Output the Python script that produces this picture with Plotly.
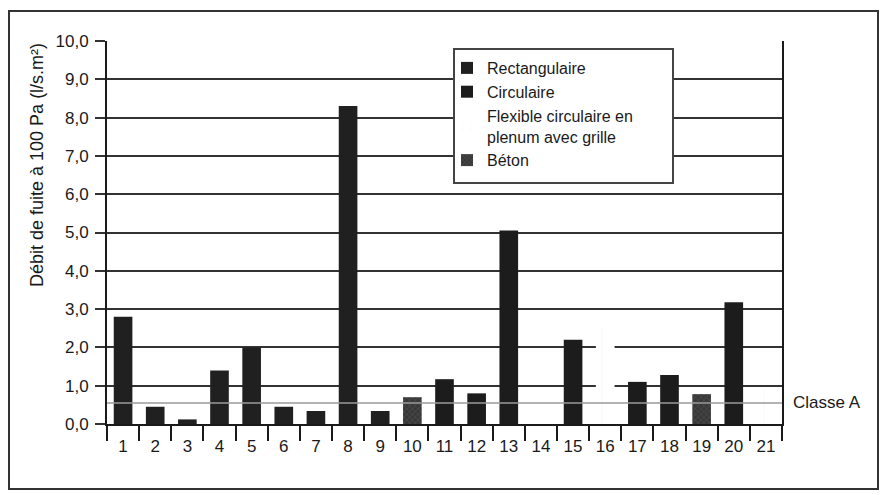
import plotly.graph_objects as go

# ---- data ----
categories = [str(i) for i in range(1, 22)]
rectangulaire = [2.8, 0.45, 0.12, 1.4, 2.0, 0.45, 0.34, 8.3, 0.34,
                 None, None, None, None, None, None, None, None, None, None, None, None]
circulaire = [None, None, None, None, None, None, None, None, None, None,
              1.17, 0.8, 5.05, None, 2.2, None, 1.1, 1.28, None, 3.18, None]
flexible = [None, None, None, None, None, None, None, None, None, None,
            None, None, None, None, None, 2.5, None, None, None, None, 0.88]
beton = [None, None, None, None, None, None, None, None, None, 0.7,
         None, None, None, None, None, None, None, None, 0.78, None, None]
classe_a = 0.55
y_ticks = [0, 1, 2, 3, 4, 5, 6, 7, 8, 9, 10]
y_ticktext = ["0,0", "1,0", "2,0", "3,0", "4,0", "5,0", "6,0", "7,0", "8,0", "9,0", "10,0"]
y_title = "Débit de fuite à 100 Pa (l/s.m²)"

FONT = "Liberation Sans, Arial, Helvetica, sans-serif"
INK = "#1a1a1a"
BW = 0.58

fig = go.Figure()
fig.add_trace(go.Bar(x=categories, y=rectangulaire, name="Rectangulaire", legendgroup="a",
                     width=BW, marker=dict(color="#202020", line=dict(width=0))))
fig.add_trace(go.Bar(x=categories, y=circulaire, name="Circulaire", legendgroup="b",
                     width=BW, marker=dict(color="#1c1c1c", line=dict(width=0))))
fig.add_trace(go.Bar(x=categories, y=flexible, name="Flexible circulaire en<br>plenum avec grille",
                     legendgroup="c",
                     width=BW, marker=dict(color="white", line=dict(width=0),
                                           pattern=dict(shape="|", fgcolor="#f0f0f0",
                                                        bgcolor="white", size=18, solidity=0.05))))
fig.add_trace(go.Bar(x=categories, y=beton, name="Béton", legendgroup="d",
                     width=BW, marker=dict(color="#3a3a3a", line=dict(width=0),
                                           pattern=dict(shape="x", fgcolor="#707070",
                                                        bgcolor="#383838", size=4, solidity=0.25))))

L, R, T, B = 107, 103, 41, 71
W, H = 885, 495
pw, ph = W - L - R, H - T - B

def px_x(x):
    return (x - L) / pw

def px_y(y):
    return (H - B - y) / ph

fig.update_layout(
    width=W, height=H,
    margin=dict(l=L, r=R, t=T, b=B),
    paper_bgcolor="white", plot_bgcolor="white",
    barmode="overlay",
    font=dict(family=FONT, color=INK, size=15),
    showlegend=True,
    legend=dict(x=px_x(447), y=px_y(51), xanchor="left", yanchor="top",
                bgcolor="rgba(0,0,0,0)", borderwidth=0,
                font=dict(size=16, family=FONT, color=INK),
                traceorder="grouped", itemwidth=30, tracegroupgap=0),
    xaxis=dict(type="category", tickson="boundaries", ticks="outside", ticklen=15,
               tickwidth=2, tickcolor=INK, showline=True, linecolor=INK, linewidth=2,
               showgrid=False, tickfont=dict(size=17, family=FONT, color=INK),
               ticklabelstandoff=6, range=[-0.5, 20.5]),
    yaxis=dict(range=[0, 10], tickvals=y_ticks, ticktext=y_ticktext, ticks="outside",
               ticklen=10, tickwidth=2, tickcolor="#333", showgrid=True,
               gridcolor="#333", gridwidth=2, showline=True, linecolor=INK, linewidth=2,
               mirror=True, zeroline=False, ticklabelstandoff=3,
               tickfont=dict(size=17, family=FONT, color=INK)),
)

# y-axis title (placed as in the original, above centre)
fig.add_annotation(xref="paper", yref="paper", x=px_x(37), y=px_y(165), text=y_title,
                   textangle=-90, showarrow=False, xanchor="center", yanchor="middle",
                   font=dict(size=18, family=FONT, color=INK))

# Classe A reference line
fig.add_shape(type="line", xref="paper", yref="y", x0=0, x1=1, y0=classe_a, y1=classe_a,
              line=dict(color="#9a9a9a", width=1.5), layer="above")
fig.add_annotation(xref="paper", yref="y", x=px_x(827), y=classe_a, text="Classe A",
                   showarrow=False, font=dict(size=17, family=FONT, color=INK),
                   xanchor="center", yanchor="middle")

# legend box
fig.add_shape(type="rect", xref="paper", yref="paper",
              x0=px_x(454), x1=px_x(673), y0=px_y(183), y1=px_y(49),
              line=dict(color="#444", width=2), fillcolor="white", layer="above")

# outer frame
fig.add_shape(type="rect", xref="paper", yref="paper",
              x0=px_x(9), x1=px_x(878), y0=px_y(489), y1=px_y(11),
              line=dict(color="#333", width=2), layer="below")

fig.write_html("out.html", config={"displayModeBar": False},
               post_script="document.body.style.margin='0px';")
